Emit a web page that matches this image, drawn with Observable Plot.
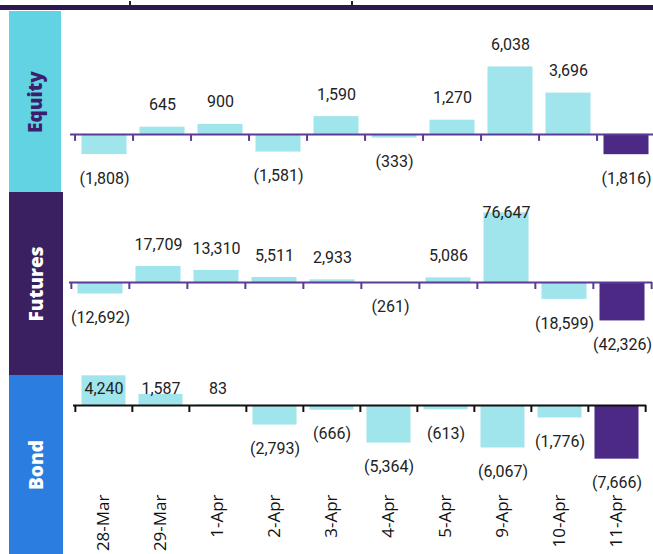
<!DOCTYPE html>
<html>
<head>
<meta charset="utf-8">
<script src="https://cdn.jsdelivr.net/npm/d3@7"></script>
<script src="https://cdn.jsdelivr.net/npm/@observablehq/plot@0.6"></script>
<style>
  html, body { margin: 0; padding: 0; width: 653px; height: 554px; overflow: hidden; background: #fff; }
  #root { position: relative; width: 653px; height: 554px; }
  .panel { position: absolute; left: 0; }
  .side { position: absolute; display: flex; align-items: center; justify-content: center; z-index: 5; }
  .side span { transform: rotate(-90deg); white-space: nowrap; font-family: "Open Sans", sans-serif; font-weight: 800; font-size: 19px; }
  .topline { position: absolute; left: 0; top: 5px; width: 653px; height: 5px; background: #2d1850; z-index: 6; }
  .nub { position: absolute; top: 1px; width: 2px; height: 4px; background: #222; z-index: 6; }
</style>
</head>
<body>
<div id="root">
  <div class="topline"></div>
  <div class="nub" style="left:129px"></div>
  <div class="nub" style="left:351px"></div>
</div>
<script>
const categories = ["28-Mar","29-Mar","1-Apr","2-Apr","3-Apr","4-Apr","5-Apr","9-Apr","10-Apr","11-Apr"];
const equity  = [-1808, 645, 900, -1581, 1590, -333, 1270, 6038, 3696, -1816];
const futures = [-12692, 17709, 13310, 5511, 2933, -261, 5086, 76647, -18599, -42326];
const bond    = [4240, 1587, 83, -2793, -666, -5364, -613, -6067, -1776, -7666];
const highlight = "11-Apr";

const panels = [
  {name: "Equity",  values: equity,  top: 11,  height: 181, domain: [-5200, 11000],   mL: 70, mR: -6, mB: 0,  axisColor: "#5a3b96", clamp: 20, box: {top: 11, h: 181, w: 52, bg: "#62d3e2", fg: "#3b1f6e"}},
  {name: "Futures", values: futures, top: 192, height: 183, domain: [-102400, 99100], mL: 69, mR: 1,  mB: 0,  axisColor: "#5a3b96", clamp: 20, box: {top: 192, h: 183, w: 54, bg: "#3a1f61", fg: "#ffffff"}},
  {name: "Bond",    values: bond,    top: 375, height: 179, domain: [-12430, 4290],   mL: 73, mR: 7,  mB: 62, axisColor: "#111111", clamp: 13, box: {top: 375, h: 179, w: 54, bg: "#2b7de0", fg: "#ffffff"}, dates: true}
];

const fmt = d3.format(",");
const root = document.getElementById("root");

for (const p of panels) {
  const data = categories.map((c, i) => ({cat: c, v: p.values[i]}));
  const plotH = p.height - p.mB;
  const k = plotH / (p.domain[1] - p.domain[0]);  // px per unit
  const step = (653 - p.mR - p.mL) / categories.length;
  const lab = data.map(d => ({
    cat: d.cat,
    y: d.v >= 0 ? Math.min(d.v + 22 / k, p.domain[1] - p.clamp / k) : d.v - 24 / k,
    t: d.v >= 0 ? fmt(d.v) : "(" + fmt(-d.v) + ")"
  }));
  const tickLen = 7 / k;
  const chart = Plot.plot({
    width: 653,
    height: p.height,
    marginLeft: p.mL,
    marginRight: p.mR,
    marginTop: 0,
    marginBottom: p.mB,
    style: {fontFamily: "Roboto, sans-serif", background: "transparent", overflow: "hidden"},
    x: {domain: categories, padding: 0, axis: null},
    y: {domain: p.domain, axis: null},
    marks: [
      Plot.barY(data, {x: "cat", y1: 0, y2: "v", insetLeft: 6.5, insetRight: 6.5, fill: d => d.cat === highlight ? "#4b2985" : "#a0e4ec"}),
      Plot.ruleY([0], {stroke: p.axisColor, strokeWidth: 2}),
      Plot.ruleX(categories, {x: d => d, y1: 0, y2: -tickLen, dx: -step / 2, stroke: p.axisColor, strokeWidth: 2}),
      Plot.ruleX([categories[categories.length - 1]], {x: d => d, y1: 0, y2: -tickLen, dx: step / 2, stroke: p.axisColor, strokeWidth: 2}),
      Plot.text(lab, {x: "cat", y: "y", text: "t", fontSize: 16, fill: "#222"}),
      p.dates ? Plot.axisX({anchor: "bottom", tickSize: 0, tickRotate: -90, tickPadding: 2, fontSize: 17, fontFamily: "Open Sans, sans-serif", color: "#111", label: null}) : null
    ]
  });
  const wrap = document.createElement("div");
  wrap.className = "panel";
  wrap.style.top = p.top + "px";
  wrap.appendChild(chart);
  root.appendChild(wrap);

  const box = document.createElement("div");
  box.className = "side";
  box.style.left = "9px";
  box.style.top = p.box.top + "px";
  box.style.width = p.box.w + "px";
  box.style.height = p.box.h + "px";
  box.style.background = p.box.bg;
  const span = document.createElement("span");
  span.textContent = p.name;
  span.style.color = p.box.fg;
  box.appendChild(span);
  root.appendChild(box);
}
</script>
</body>
</html>
